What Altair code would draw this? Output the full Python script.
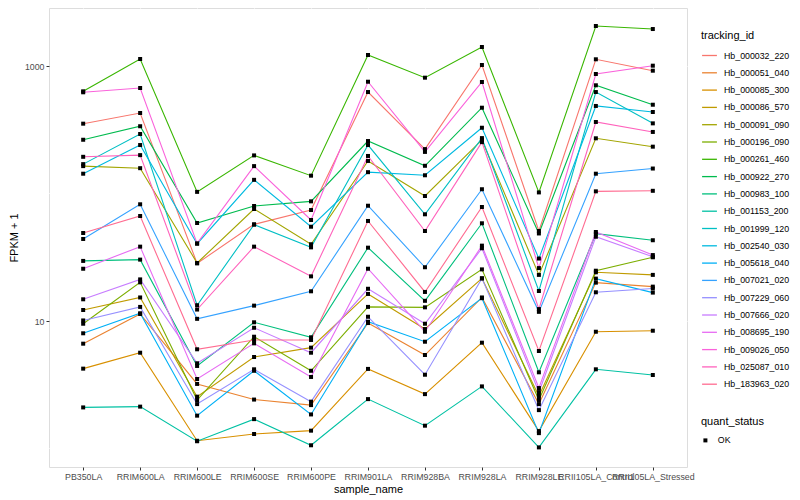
import altair as alt
import pandas as pd

samples = ["PB350LA", "RRIM600LA", "RRIM600LE", "RRIM600SE", "RRIM600PE", "RRIM901LA",
           "RRIM928BA", "RRIM928LA", "RRIM928LE", "RRII105LA_Control", "RRII105LA_Stressed"]

tracking_ids = ["Hb_000032_220", "Hb_000051_040", "Hb_000085_300", "Hb_000086_570", "Hb_000091_090",
                "Hb_000196_090", "Hb_000261_460", "Hb_000922_270", "Hb_000983_100", "Hb_001153_200",
                "Hb_001999_120", "Hb_002540_030", "Hb_005618_040", "Hb_007021_020", "Hb_007229_060",
                "Hb_007666_020", "Hb_008695_190", "Hb_009026_050", "Hb_025087_010", "Hb_183963_020"]

palette = ["#F8766D", "#EA8331", "#D89000", "#C09B00", "#A3A500", "#7CAE00", "#39B600", "#00BB4E",
           "#00BF7D", "#00C1A3", "#00BFC4", "#00BAE0", "#00B0F6", "#35A2FF", "#9590FF", "#C77CFF",
           "#E76BF3", "#FA62DB", "#FF62BC", "#FF6C91"]

# FPKM + 1 values per gene, one per sample
hb_000032_220 = [353, 428, 28.3, 57.3, 74.2, 625, 223, 1018, 50.8, 1129, 919]
hb_000051_040 = [6.64, 11.35, 3.21, 2.42, 2.19, 9.64, 5.41, 15.3, 2.23, 20.0, 18.6]
hb_000085_300 = [4.23, 5.64, 1.15, 1.30, 1.38, 4.21, 2.67, 6.76, 1.37, 8.24, 8.39]
hb_000086_570 = [12.2, 15.3, 2.55, 5.22, 6.18, 16.3, 8.65, 21.6, 2.58, 24.1, 23.0]
hb_000091_090 = [164, 158, 28.5, 75.6, 40.0, 180, 95.6, 263, 23.0, 271, 233]
hb_000196_090 = [9.52, 20.1, 2.40, 7.53, 4.07, 12.9, 12.8, 25.4, 2.40, 24.8, 31.6]
hb_000261_460 = [633, 1135, 103, 199, 138, 1220, 810, 1409, 102, 2060, 1950]
hb_000922_270 = [264, 337, 58.7, 79.8, 86.8, 258, 165, 471, 48.6, 706, 497]
hb_000983_100 = [29.6, 30.3, 4.44, 9.77, 7.45, 37.6, 14.4, 58.4, 3.96, 48.4, 43.0]
hb_001153_200 = [2.10, 2.13, 1.14, 1.70, 1.06, 2.44, 1.51, 3.07, 1.02, 4.18, 3.77]
hb_001999_120 = [170, 293, 13.3, 57.0, 37.8, 240, 68.7, 272, 17.2, 625, 355]
hb_002540_030 = [143, 240, 40.4, 128, 54.9, 147, 139, 328, 30.9, 486, 436]
hb_005618_040 = [8.01, 11.5, 1.81, 4.07, 1.85, 9.87, 6.88, 15.1, 1.32, 21.5, 16.7]
hb_007021_020 = [44.0, 82.3, 10.4, 13.2, 17.1, 80.2, 26.4, 108, 11.8, 143, 157]
hb_007229_060 = [10.1, 12.9, 2.23, 4.18, 2.33, 10.8, 3.79, 21.6, 2.00, 16.8, 18.0]
hb_007666_020 = [14.8, 21.2, 4.66, 8.85, 5.64, 17.9, 9.52, 37.2, 2.77, 45.8, 31.9]
hb_008695_190 = [25.7, 38.3, 3.51, 6.68, 3.64, 25.7, 8.24, 39.0, 2.98, 49.9, 32.9]
hb_009026_050 = [622, 672, 40.6, 164, 62.0, 753, 212, 749, 26.0, 866, 1006]
hb_025087_010 = [194, 200, 12.3, 38.3, 22.4, 197, 50.8, 253, 12.4, 364, 304]
hb_183963_020 = [49.0, 66.6, 6.00, 7.10, 7.10, 60.9, 16.9, 78.4, 5.82, 104, 105]

series = [hb_000032_220, hb_000051_040, hb_000085_300, hb_000086_570, hb_000091_090,
          hb_000196_090, hb_000261_460, hb_000922_270, hb_000983_100, hb_001153_200,
          hb_001999_120, hb_002540_030, hb_005618_040, hb_007021_020, hb_007229_060,
          hb_007666_020, hb_008695_190, hb_009026_050, hb_025087_010, hb_183963_020]

quant_status = "OK"
y_major = [10, 1000]
y_minor = [1, 100]

rows = []
for gid, vals in zip(tracking_ids, series):
    for s, v in zip(samples, vals):
        rows.append({"tracking_id": gid, "sample_name": s, "fpkm1": v, "quant_status": quant_status})
df = pd.DataFrame(rows)

x_enc = alt.X("sample_name:N", sort=samples, title="sample_name",
              scale=alt.Scale(type="point", padding=0.6),
              axis=alt.Axis(labelAngle=0, labelOverlap=False, grid=True, gridColor="white",
                            gridWidth=1.1, domain=False, tickColor="#333333", tickSize=3,
                            labelColor="#4D4D4D", labelFontSize=8.8, labelPadding=2,
                            titleFontSize=11, titleFontWeight="normal", titlePadding=3,
                            titleColor="black"))
y_scale = alt.Scale(type="log", domain=[0.716, 2851], nice=False)
y_enc = alt.Y("fpkm1:Q", title="FPKM + 1", scale=y_scale,
              axis=alt.Axis(values=y_major, format="d", grid=True, gridColor="white", gridWidth=1.1,
                            domain=False, tickColor="#333333", tickSize=3, labelColor="#4D4D4D",
                            labelFontSize=8.8, labelPadding=2, titleFontSize=11,
                            titleFontWeight="normal", titlePadding=5, titleColor="black"))

minor = alt.Chart(pd.DataFrame({"v": y_minor})).mark_rule(color="white", strokeWidth=0.55).encode(
    y=alt.Y("v:Q", scale=y_scale)
)

lines = alt.Chart(df).mark_line(strokeWidth=1.1).encode(
    x=x_enc,
    y=y_enc,
    color=alt.Color("tracking_id:N", sort=tracking_ids,
                    scale=alt.Scale(domain=tracking_ids, range=palette),
                    legend=alt.Legend(title="tracking_id", orient="none", legendX=652, legendY=22,
                                      symbolType="stroke", symbolSize=220, symbolStrokeWidth=1.3,
                                      labelFontSize=8.8, titleFontSize=11, titleFontWeight="normal",
                                      labelColor="black", titleColor="black", rowPadding=3.3,
                                      titlePadding=6, labelOffset=6)),
    detail="tracking_id:N",
)

points = alt.Chart(df).mark_point(filled=True, color="black", size=16, opacity=1).encode(
    x=alt.X("sample_name:N", sort=samples),
    y=alt.Y("fpkm1:Q", scale=y_scale),
    shape=alt.Shape("quant_status:N", scale=alt.Scale(range=["square"]),
                    legend=alt.Legend(title="quant_status", orient="none", legendX=652, legendY=408,
                                      labelFontSize=8.8, titleFontSize=11, titleFontWeight="normal",
                                      labelColor="black", titleColor="black", symbolSize=16,
                                      symbolFillColor="black", titlePadding=9, labelOffset=8)),
)

chart = alt.layer(minor, lines, points).properties(
    width=638, height=459,
    padding={"left": 0, "top": 0, "right": 0, "bottom": 0},
).configure_view(fill="#EBEBEB", stroke=None).configure(
    font="Liberation Sans"
).configure_axis(labelFont="Liberation Sans", titleFont="Liberation Sans")

chart.save("out.html", embed_options={"renderer": "svg", "actions": False})
